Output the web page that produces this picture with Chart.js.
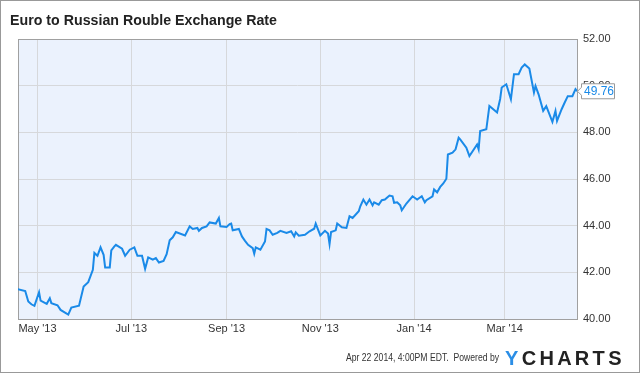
<!DOCTYPE html>
<html>
<head>
<meta charset="utf-8">
<script src="https://cdn.jsdelivr.net/npm/chart.js@4"></script>
<style>
  body { margin: 0; background: #fff; }
  canvas { display: block; }
</style>
</head>
<body>
<canvas id="rateChart" width="640" height="373"></canvas>
<script>
// days after 1 May 2013
const dayOffsets = [
  -13, -8, -6, -4, -2, 1, 2, 6, 8, 9, 13, 15, 20, 22, 27, 30, 33, 36, 37, 39,
  41, 43, 44, 47, 48, 50, 51, 55, 57, 60, 63, 65, 68, 70, 72, 75, 77, 79, 82, 84,
  86, 88, 90, 96, 99, 101, 104, 105, 107, 110, 112, 116, 118, 119, 123, 125, 126, 127, 131, 133,
  135, 137, 140, 141, 142, 145, 148, 149, 151, 153, 156, 158, 162, 165, 167, 168, 170, 174, 177, 180,
  181, 184, 187, 189, 190, 191, 194, 195, 198, 201, 203, 205, 209, 210, 212, 214, 216, 218, 219, 222,
  224, 226, 229, 231, 232, 234, 236, 237, 240, 244, 247, 250, 252, 253, 257, 258, 260, 262, 264, 266,
  267, 270, 272, 274, 275, 279, 281, 286, 287, 288, 292, 294, 299, 301, 302, 305, 308, 310, 313, 315,
  317, 320, 323, 324, 326, 329, 331, 335, 337, 338, 341, 343, 345, 348, 350, 351
];

const eurRub = [
  41.28, 41.20, 40.75, 40.63, 40.56, 41.15, 40.79, 40.65, 40.89, 40.68, 40.59, 40.39, 40.19, 40.49, 40.57, 41.39, 41.58, 42.11, 42.83, 42.71,
  43.07, 42.75, 42.21, 42.21, 42.94, 43.11, 43.18, 43.01, 42.71, 42.97, 43.07, 42.71, 42.71, 42.15, 42.64, 42.54, 42.61, 42.42, 42.49, 42.78,
  43.37, 43.50, 43.73, 43.58, 43.97, 43.86, 43.90, 43.78, 43.90, 43.97, 44.14, 44.09, 44.33, 43.97, 43.94, 44.07, 44.09, 43.80, 43.86, 43.54,
  43.35, 43.18, 43.04, 42.80, 43.07, 42.97, 43.32, 43.86, 43.80, 43.61, 43.69, 43.78, 43.69, 43.76, 43.54, 43.71, 43.57, 43.61, 43.76, 43.87,
  44.09, 43.58, 43.78, 43.66, 43.21, 43.73, 43.80, 44.09, 43.93, 43.90, 44.40, 44.33, 44.62, 44.83, 45.12, 44.90, 45.12, 44.87, 45.00, 44.90,
  45.09, 45.12, 45.29, 45.26, 44.98, 45.00, 44.87, 44.66, 44.95, 45.26, 45.12, 45.26, 45.00, 45.09, 45.26, 45.55, 45.43, 45.66, 45.81, 46.01,
  47.05, 47.13, 47.27, 47.77, 47.70, 47.34, 46.98, 47.48, 47.27, 48.06, 48.13, 49.13, 48.85, 49.43, 49.92, 50.06, 49.42, 50.49, 50.49, 50.78,
  50.91, 50.73, 49.71, 49.99, 49.63, 48.92, 49.12, 48.45, 48.92, 48.49, 48.99, 49.28, 49.55, 49.55, 49.85, 49.76
];

const monthTicks = [0, 61, 123, 184, 245, 304];
const monthLabels = ["May '13", "Jul '13", "Sep '13", "Nov '13", "Jan '14", "Mar '14"];
const rateTicks = [40, 42, 44, 46, 48, 50, 52];

const chartTitle = "Euro to Russian Rouble Exchange Rate";
const footerText = "Apr 22 2014, 4:00PM EDT.  Powered by";
const lastValueText = "49.76";

const lineBlue = "#1a8ae8";
const fontFam = "'Liberation Sans', Arial, sans-serif";

Chart.defaults.font.family = fontFam;
Chart.defaults.font.size = 11;
Chart.defaults.color = "#333";

const chromePlugin = {
  id: "chrome",
  beforeDraw(chart) {
    const { ctx, chartArea: a } = chart;
    ctx.save();
    ctx.fillStyle = "#fff";
    ctx.fillRect(0, 0, chart.width, chart.height);
    ctx.fillStyle = "#ebf2fd";
    ctx.fillRect(a.left, a.top, a.right - a.left, a.bottom - a.top);
    ctx.restore();
  },
  beforeDatasetsDraw(chart) {
    const { ctx, chartArea: a } = chart;
    ctx.save();
    ctx.strokeStyle = "#a0a0a0";
    ctx.lineWidth = 1;
    ctx.strokeRect(Math.round(a.left) + 0.5, Math.round(a.top) + 0.5,
      Math.round(a.right - a.left), Math.round(a.bottom - a.top));
    ctx.restore();
  },
  afterDraw(chart) {
    const { ctx } = chart;
    const xs = chart.scales.x, ys = chart.scales.y;
    ctx.save();

    // outer frame
    ctx.strokeStyle = "#999";
    ctx.strokeRect(0.5, 0.5, chart.width - 1, chart.height - 1);

    // title, squeezed a little to the reference width
    ctx.fillStyle = "#222";
    ctx.font = "bold 15px " + fontFam;
    ctx.textBaseline = "alphabetic";
    ctx.textAlign = "left";
    const tw = ctx.measureText(chartTitle).width;
    ctx.save();
    ctx.translate(10, 25);
    ctx.scale(267 / tw, 1);
    ctx.fillText(chartTitle, 0, 0);
    ctx.restore();

    // last value tag
    const px = xs.getPixelForValue(dayOffsets[dayOffsets.length - 1]);
    const py = ys.getPixelForValue(eurRub[eurRub.length - 1]);
    const bx = px + 4, bw = 33, bh = 15;
    ctx.beginPath();
    ctx.moveTo(px + 0.5, py);
    ctx.lineTo(bx + 0.5, py - 4);
    ctx.lineTo(bx + 0.5, py - bh / 2);
    ctx.lineTo(bx + bw + 0.5, py - bh / 2);
    ctx.lineTo(bx + bw + 0.5, py + bh / 2);
    ctx.lineTo(bx + 0.5, py + bh / 2);
    ctx.lineTo(bx + 0.5, py + 4);
    ctx.closePath();
    ctx.fillStyle = "#fff";
    ctx.fill();
    ctx.strokeStyle = "#999";
    ctx.stroke();
    ctx.fillStyle = lineBlue;
    ctx.font = "12px " + fontFam;
    ctx.textBaseline = "middle";
    ctx.fillText(lastValueText, bx + 3, py + 0.5);

    // footer
    ctx.textBaseline = "alphabetic";
    ctx.textAlign = "left";
    ctx.font = "10.5px " + fontFam;
    ctx.fillStyle = "#333";
    const fw = ctx.measureText(footerText).width;
    ctx.save();
    ctx.translate(346, 361);
    ctx.scale(Math.min(1, 153 / fw), 1);
    ctx.fillText(footerText, 0, 0);
    ctx.restore();

    ctx.font = "bold 20px " + fontFam;
    let cx = 505;
    const logo = "YCHARTS";
    for (let i = 0; i < logo.length; i++) {
      ctx.fillStyle = i === 0 ? "#2b8ee6" : "#222";
      ctx.fillText(logo[i], cx, 365);
      cx += ctx.measureText(logo[i]).width + 3.3;
    }
    ctx.restore();
  }
};

const ctx = document.getElementById("rateChart").getContext("2d");

new Chart(ctx, {
  type: "line",
  data: {
    datasets: [
      {
        label: "EUR/RUB",
        data: dayOffsets.map((d, i) => ({ x: d, y: eurRub[i] })),
        borderColor: lineBlue,
        borderWidth: 2,
        pointRadius: 0,
        tension: 0,
        fill: false,
      },
    ],
  },
  options: {
    responsive: false,
    animation: false,
    devicePixelRatio: 1,
    layout: { padding: { left: 18, top: 39, right: 0, bottom: 0 } },
    plugins: {
      legend: { display: false },
      tooltip: { enabled: false },
    },
    scales: {
      x: {
        type: "linear",
        min: -12.7,
        max: 351,
        afterFit: (scale) => { scale.height = 54; },
        afterBuildTicks: (scale) => {
          scale.ticks = monthTicks.map((v) => ({ value: v }));
        },
        ticks: {
          padding: 3,
          maxRotation: 0,
          color: "#333",
          callback: (v) => monthLabels[monthTicks.indexOf(v)],
        },
        grid: { color: "#d6d8db", lineWidth: 1, drawTicks: false },
        border: { display: false },
      },
      y: {
        position: "right",
        min: 40,
        max: 52,
        afterFit: (scale) => { scale.width = 63; },
        afterBuildTicks: (scale) => {
          scale.ticks = rateTicks.map((v) => ({ value: v }));
        },
        ticks: {
          padding: 6,
          color: "#333",
          callback: (v) => v.toFixed(2),
        },
        grid: { color: "#d6d8db", lineWidth: 1, drawTicks: false },
        border: { display: false },
      },
    },
  },
  plugins: [chromePlugin],
});
</script>
</body>
</html>
